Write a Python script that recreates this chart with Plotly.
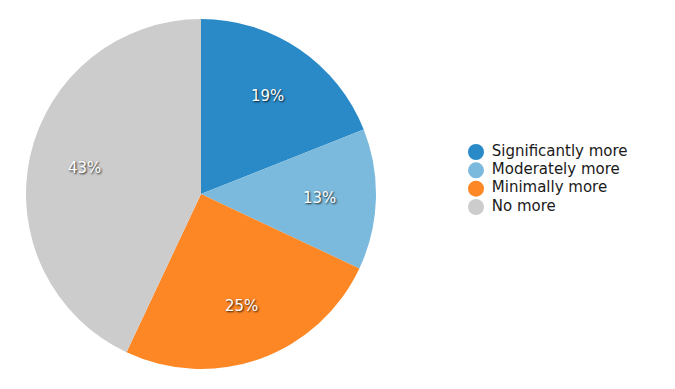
import math
import plotly.graph_objects as go

labels = ["Significantly more", "Moderately more", "Minimally more", "No more"]
values = [19, 13, 25, 43]
colors = ["#2a8ac8", "#7bbadc", "#fd8724", "#cccccc"]

W, H = 675, 389
OFF = 8  # page body margin
# pie geometry in figure pixels
CX, CY, R = 201 - OFF, 194 - OFF, 175

fig = go.Figure()
fig.add_trace(go.Pie(
    labels=labels, values=values, sort=False, direction="clockwise", rotation=0,
    marker=dict(colors=colors, line=dict(width=0)),
    textinfo="none", showlegend=False, hoverinfo="label+percent",
    domain=dict(x=[(CX - R) / W, (CX + R) / W], y=[1 - (CY + R) / H, 1 - (CY - R) / H]),
))

# percentage labels placed at the middle angle of each slice
total = sum(values)
cum = 0
for v in values:
    mid = (cum + v / 2) / total * 2 * math.pi
    cum += v
    px = CX + 0.68 * R * math.sin(mid)
    py = CY - 0.68 * R * math.cos(mid)
    fig.add_annotation(
        x=px / W, y=1 - py / H, xref="paper", yref="paper", showarrow=False,
        text=f"{round(v / total * 100)}%", xanchor="center", yanchor="middle",
        font=dict(family="DejaVu Sans", size=15, color="white",
                  shadow="1px 1px 2px rgba(0,0,0,0.85)"),
    )

# legend drawn as a marker+text trace on a hidden category axis
fig.add_trace(go.Scatter(
    x=[0] * len(labels), y=labels, mode="markers+text",
    text=labels, texttemplate=" %{text}", textposition="middle right",
    textfont=dict(family="DejaVu Sans", size=15, color="#1a1a1a"),
    marker=dict(symbol="circle", size=16, color=colors),
    cliponaxis=False, showlegend=False, hoverinfo="skip",
))
row = 18.4
top = 152 - OFF - row / 2
bot = 207 - OFF + row / 2
fig.update_xaxes(visible=False, domain=[(476 - OFF) / W, 1], range=[0, 1], fixedrange=True)
fig.update_yaxes(visible=False, domain=[1 - bot / H, 1 - top / H],
                 type="category", range=[3.5, -0.5], fixedrange=True)
fig.update_layout(
    width=W, height=H,
    margin=dict(l=0, r=0, t=0, b=0),
    paper_bgcolor="white", plot_bgcolor="rgba(0,0,0,0)",
    font=dict(family="DejaVu Sans", size=15, color="#1a1a1a"),
    showlegend=False,
)
fig.write_html("out.html")
